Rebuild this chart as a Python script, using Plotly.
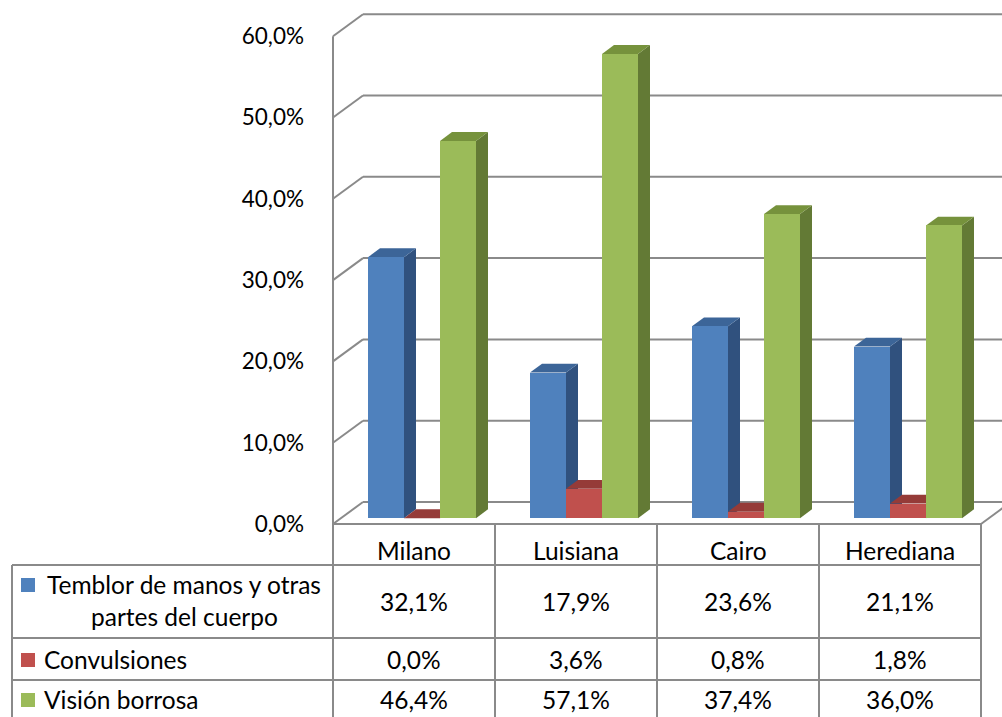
import plotly.graph_objects as go

# ---- data -------------------------------------------------------------
categories = ["Milano", "Luisiana", "Cairo", "Herediana"]
series_names = ["Temblor de manos y otras partes del cuerpo", "Convulsiones", "Visión borrosa"]
temblor = [32.1, 17.9, 23.6, 21.1]
convulsiones = [0.0, 3.6, 0.8, 1.8]
vision = [46.4, 57.1, 37.4, 36.0]
y_ticks = [0, 10, 20, 30, 40, 50, 60]
y_ticktext = ["0,0%", "10,0%", "20,0%", "30,0%", "40,0%", "50,0%", "60,0%"]

series_values = [temblor, convulsiones, vision]
front_colors = ["#4F81BD", "#C0504D", "#9BBB59"]
top_colors = ["#3C6598", "#953B38", "#76923C"]
side_colors = ["#30517E", "#8A3330", "#637A35"]

# ---- canvas geometry ----------------------------------------------------
W, H = 1002, 717
LEFT_PX = 333          # left edge of the front plane
CAT_PX = 162           # width of one category slot
BASE_PX = 524          # 0 % on the front plane
PX_PER_UNIT = 8.13     # pixels per 1 %

x_range = [-0.5 - LEFT_PX / CAT_PX, -0.5 + (W - LEFT_PX) / CAT_PX]
y_range = [(BASE_PX - H) / PX_PER_UNIT, BASE_PX / PX_PER_UNIT]

# oblique depth of the whole box, in axis units
DX = 30 / CAT_PX
DY = 22 / PX_PER_UNIT
F_FRONT, F_BACK = 8 / 30, 20 / 30   # depth band occupied by the columns
BAR_W = 36 / CAT_PX
OFFSETS = [-BAR_W, 0.0, BAR_W]

GRID = "#8A8A8A"
FONT = "Lato, Carlito, Calibri, sans-serif"


def py(px):
    """pixel row -> paper y"""
    return 1 - px / H


def px_x(px):
    """pixel column -> paper x"""
    return px / W


def path(pts):
    return "M " + " L ".join(f"{x:.5f},{y:.5f}" for x, y in pts) + " Z"


shapes = []

# back wall grid lines and left wall diagonals
x_left = -0.5
for v in y_ticks:
    shapes.append(dict(type="line", xref="x", yref="y", layer="below",
                       x0=x_left + DX, y0=v + DY, x1=x_range[1] + 1, y1=v + DY,
                       line=dict(color=GRID, width=2)))
    shapes.append(dict(type="line", xref="x", yref="y", layer="below",
                       x0=x_left, y0=v, x1=x_left + DX, y1=v + DY,
                       line=dict(color=GRID, width=2)))
# front vertical edge of the left wall
shapes.append(dict(type="line", xref="x", yref="y", layer="below",
                   x0=x_left, y0=0, x1=x_left, y1=y_ticks[-1],
                   line=dict(color=GRID, width=2)))
# right edge of the floor
n = len(categories)
shapes.append(dict(type="line", xref="x", yref="y", layer="below",
                   x0=n - 0.5, y0=0, x1=n - 0.5 + DX, y1=DY,
                   line=dict(color=GRID, width=2)))

# side and top faces of every column (front faces are the bar traces)
ddx = (F_BACK - F_FRONT) * DX
ddy = (F_BACK - F_FRONT) * DY
b0 = F_FRONT * DY
for i in range(n):
    for j, vals in enumerate(series_values):
        v = vals[i]
        xl = i + OFFSETS[j] + F_FRONT * DX - BAR_W / 2
        xr = xl + BAR_W
        top = b0 + v
        # side face
        if v > 0:
            shapes.append(dict(type="path", xref="x", yref="y", layer="below",
                               path=path([(xr, b0), (xr, top), (xr + ddx, top + ddy), (xr + ddx, b0 + ddy)]),
                               fillcolor=side_colors[j], line=dict(width=0)))
        # top face
        shapes.append(dict(type="path", xref="x", yref="y", layer="below",
                           path=path([(xl, top), (xr, top), (xr + ddx, top + ddy), (xl + ddx, top + ddy)]),
                           fillcolor=top_colors[j], line=dict(width=0)))

fig = go.Figure()
for j, vals in enumerate(series_values):
    fig.add_trace(go.Bar(
        x=[i + OFFSETS[j] + F_FRONT * DX for i in range(n)],
        y=vals,
        base=[b0] * n,
        width=BAR_W,
        name=series_names[j],
        marker=dict(color=front_colors[j], line=dict(width=0)),
        showlegend=False,
        hoverinfo="skip",
    ))

# ---- data table under the plot ------------------------------------------
ROW_LINES = [565, 638, 680, 719]
TABLE_LEFT = 12
# horizontal rules
for r in ROW_LINES:
    shapes.append(dict(type="line", xref="paper", yref="paper",
                       x0=px_x(TABLE_LEFT), x1=px_x(LEFT_PX + n * CAT_PX), y0=py(r), y1=py(r),
                       line=dict(color=GRID, width=2)))
# floor front edge / table top
shapes.append(dict(type="line", xref="x", yref="paper",
                   x0=-0.5, x1=n - 0.5, y0=py(BASE_PX), y1=py(BASE_PX),
                   line=dict(color=GRID, width=2)))
# column separators
for k in range(n + 1):
    shapes.append(dict(type="line", xref="x", yref="paper",
                       x0=k - 0.5, x1=k - 0.5, y0=py(BASE_PX), y1=0,
                       line=dict(color=GRID, width=2)))
shapes.append(dict(type="line", xref="paper", yref="paper",
                   x0=px_x(TABLE_LEFT), x1=px_x(TABLE_LEFT), y0=py(ROW_LINES[0]), y1=0,
                   line=dict(color=GRID, width=2)))

annotations = []
TXT = dict(family=FONT, size=24.5, color="#000000")
TICK = dict(family=FONT, size=22.5, color="#000000")
for i, c in enumerate(categories):
    annotations.append(dict(xref="x", yref="paper", x=i, y=py(550), text=c,
                            showarrow=False, xanchor="center", yanchor="middle", font=TXT))

row_centers = [601, 659, 699]
for j, vals in enumerate(series_values):
    for i, v in enumerate(vals):
        annotations.append(dict(xref="x", yref="paper", x=i, y=py(row_centers[j]),
                                text=f"{v:.1f}%".replace(".", ","),
                                showarrow=False, xanchor="center", yanchor="middle", font=TXT))

# row headers with colour keys
key_rows = [585, 660, 700]
for j in range(3):
    shapes.append(dict(type="rect", xref="paper", yref="paper",
                       x0=px_x(21), x1=px_x(35), y0=py(key_rows[j] - 7), y1=py(key_rows[j] + 7),
                       fillcolor=front_colors[j], line=dict(width=0)))

label_lines = [["Temblor de manos y otras", "partes del cuerpo"], ["Convulsiones"], ["Visión borrosa"]]
annotations.append(dict(xref="paper", yref="paper", x=px_x(184), y=py(584), text=label_lines[0][0],
                        showarrow=False, xanchor="center", yanchor="middle", font=TXT))
annotations.append(dict(xref="paper", yref="paper", x=px_x(184), y=py(616), text=label_lines[0][1],
                        showarrow=False, xanchor="center", yanchor="middle", font=TXT))
for j in (1, 2):
    annotations.append(dict(xref="paper", yref="paper", x=px_x(42), y=py(key_rows[j] - 1), text=label_lines[j][0],
                            showarrow=False, xanchor="left", yanchor="middle", font=TXT))

fig.update_layout(
    width=W, height=H,
    margin=dict(l=0, r=0, t=0, b=0),
    paper_bgcolor="white", plot_bgcolor="white",
    barmode="overlay", bargap=0,
    showlegend=False,
    xaxis=dict(range=x_range, visible=False, fixedrange=True),
    yaxis=dict(range=y_range, side="right", anchor="free", position=LEFT_PX / W,
               tickvals=y_ticks, ticktext=y_ticktext, ticklabelposition="inside",
               ticks="", showgrid=False, zeroline=False, showline=False,
               ticklabelstandoff=26, tickfont=TICK, fixedrange=True),
    shapes=shapes,
    annotations=annotations,
)

fig.write_html("out.html")
